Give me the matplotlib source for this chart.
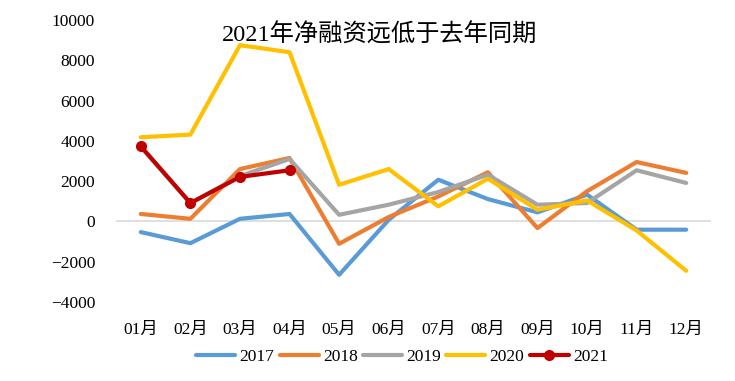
import matplotlib.pyplot as plt

months = ["01月", "02月", "03月", "04月", "05月", "06月",
          "07月", "08月", "09月", "10月", "11月", "12月"]
s2017 = [-530, -1080, 130, 370, -2650, 80, 2070, 1110, 450, 1330, -410, -410]
s2018 = [370, 130, 2600, 3150, -1110, 220, 1240, 2440, -330, 1500, 2950, 2410]
s2019 = [3700, 900, 2250, 3100, 330, 830, 1460, 2320, 830, 915, 2540, 1910]
s2020 = [4180, 4310, 8750, 8400, 1820, 2600, 750, 2120, 580, 1045, -450, -2450]
s2021 = [3730, 915, 2210, 2540]

series = [
    ("2017", s2017, "#5B9BD5"),
    ("2018", s2018, "#ED7D31"),
    ("2019", s2019, "#A5A5A5"),
    ("2020", s2020, "#FFC000"),
]

fonts = ["Liberation Serif", "Noto Sans CJK SC"]
plt.rcParams["font.family"] = fonts

fig = plt.figure(figsize=(7.35, 3.81), dpi=100)
ax = fig.add_axes([116 / 735, 1 - 302 / 381, 595 / 735, 282 / 381])

ax.axhline(0, color="#D9D9D9", lw=1.2, zorder=1)
x = list(range(len(months)))
for name, vals, col in series:
    ax.plot(x, vals, color=col, lw=3, label=name, solid_capstyle="round", zorder=2)
ax.plot(x[:len(s2021)], s2021, color="#C00000", lw=3, marker="o", ms=7,
        label="2021", solid_capstyle="round", zorder=3)

ax.set_xlim(-0.5, 11.5)
ax.set_ylim(-4000, 10000)
ax.set_yticks(range(-4000, 10001, 2000))
ax.set_xticks(x)
ax.set_xticklabels(months)
ax.tick_params(axis="both", length=0, labelsize=12.5, colors="black")
ax.tick_params(axis="y", pad=15)
ax.tick_params(axis="x", pad=14)
for sp in ax.spines.values():
    sp.set_visible(False)

fig.text(380 / 735, 1 - 35 / 381, "2021年净融资远低于去年同期",
         ha="center", va="center", fontsize=17.5)

fig.legend(loc="center", bbox_to_anchor=(402 / 735, 1 - 357 / 381), ncol=5,
           frameon=False, fontsize=12.5, handlelength=2.25, columnspacing=0.3,
           handletextpad=0.25)

fig.savefig("out.png", dpi=100)
